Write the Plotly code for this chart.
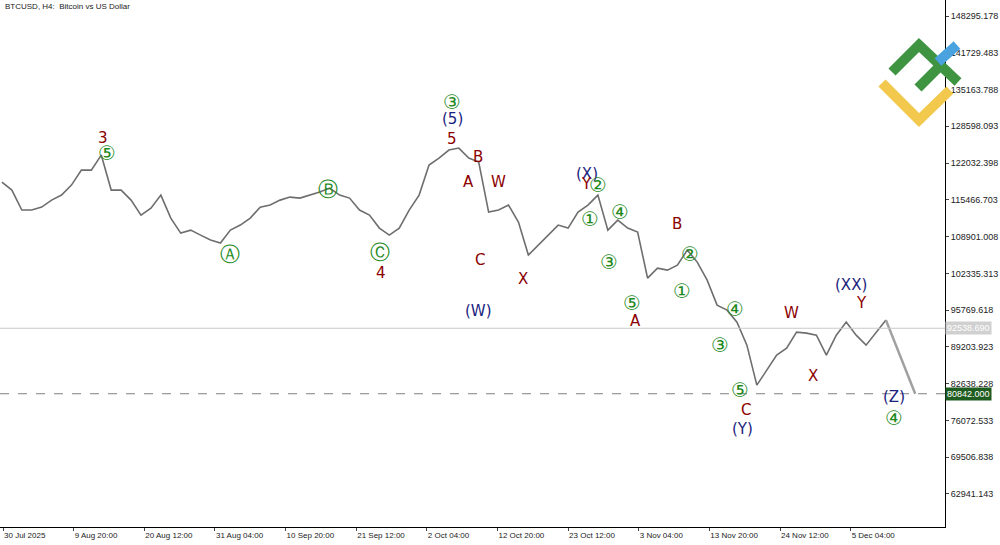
import pandas as pd
import plotly.graph_objects as go

# BTCUSD H4 close path, sampled every 36 hours from 30 Jul 2025
start = pd.Timestamp("2025-07-30 00:00")
prices = [
    118640, 117210, 113640, 113640, 114170, 115420, 116320, 118100, 120780, 120780,
    123460, 117210, 117210, 115420, 112740, 113990, 116320, 112210, 109530, 110060,
    109170, 108280, 107740, 110060, 110960, 112210, 114170, 114530, 115420, 115960,
    115780, 116320, 116850, 117570, 116320, 115780, 113640, 112740, 110420, 109170,
    110420, 113640, 116320, 121680, 122930, 124360, 124710, 122930, 122210, 113280,
    113640, 114530, 111490, 105600, 107380, 109170, 110960, 110420, 113280, 114530,
    116320, 110060, 111850, 110420, 109710, 101490, 103270, 102920, 103810, 106490,
    104350, 101130, 96660, 95770, 93630, 89520, 82370, 85050, 87730, 88980,
    91840, 91660, 91300, 87730, 91300, 93630, 91300, 89520, 91840, 93990,
]
dates = pd.date_range(start, periods=len(prices), freq="36h")

forecast_dates = [dates[-1], pd.Timestamp("2025-12-14 22:00")]
forecast_prices = [prices[-1], 80842]

price_ticks = [148295.178, 141729.483, 135163.788, 128598.093, 122032.398, 115466.703,
               108901.008, 102335.313, 95769.618, 89203.923, 82638.228, 76072.533,
               69506.838, 62941.143]
time_ticks = pd.date_range("2025-07-30 04:00", periods=13, freq="256h")
time_labels = ["30 Jul 2025"] + [t.strftime("%-d %b %H:%M") for t in time_ticks[1:]]

current_price = 92538.690
target_price = 80842.000

# wave labels: (pixel x, pixel y, text, kind)
labels = [
    (96, 127, "3", "r"), (96, 139, "⑤", "g"), (218, 254, "Ⓐ", "g"), (328, 175, "Ⓑ", "g"),
    (380, 252, "Ⓒ", "g"), (381, 273, "4", "r"), (452, 88, "③", "g"), (452, 108, "(5)", "b"),
    (452, 128, "5", "r"), (478, 146, "B", "r"), (468, 182, "A", "r"), (480, 260, "C", "r"),
    (478, 311, "(W)", "b"), (498, 182, "W", "r"), (523, 279, "X", "r"), (587, 163, "(X)", "b"),
    (586, 184, "Y", "r"), (598, 185, "②", "g"), (590, 219, "①", "g"), (631, 212, "④", "g"),
    (609, 262, "③", "g"), (643, 303, "⑤", "g"), (643, 321, "A", "r"), (684, 224, "B", "r"),
    (701, 254, "②", "g"), (693, 291, "①", "g"), (746, 309, "④", "g"), (731, 359, "③", "g"),
    (751, 404, "⑤", "g"), (753, 421, "C", "r"), (755, 440, "(Y)", "b"), (801, 313, "W", "r"),
    (820, 387, "X", "r"), (869, 285, "(XX)", "b"), (869, 303, "Y", "r"), (907, 408, "(Z)", "b"),
    (905, 432, "④", "g"),
]
colors = {"r": "#8b0000", "g": "#1e8a1e", "b": "#1a237e"}

W, H = 945, 527  # plot area in pixels


def px(x, y):
    return x / W, 1 - y / H


fig = go.Figure()
fig.add_trace(go.Scatter(x=dates, y=prices, mode="lines",
                         line=dict(color="#6e6e6e", width=1.6), showlegend=False))
fig.add_trace(go.Scatter(x=forecast_dates, y=forecast_prices, mode="lines",
                         line=dict(color="#a0a0a0", width=2.5), showlegend=False))

fig.add_hline(y=current_price, line=dict(color="#c8c8c8", width=1))
fig.add_hline(y=target_price, line=dict(color="#808080", width=1, dash="dash"))

for x, y, t, k in labels:
    ax, ay = px(x, y)
    fig.add_annotation(x=ax, y=ay, xref="paper", yref="paper", text=t, showarrow=False,
                       font=dict(size=20 if k == "g" else 15, color=colors[k],
                                 family="DejaVu Sans"))

for price, bg, fg in [(current_price, "#d0d0d0", "white"), (target_price, "#1f5c1f", "white")]:
    fig.add_annotation(x=1, y=price, xref="paper", yref="y", text=f"{price:.3f}",
                       showarrow=False, xanchor="left", bgcolor=bg, borderpad=1,
                       font=dict(size=9, color=fg, family="Liberation Sans"))

# logo
logo = [
    ([(892, 72), (919, 45), (958, 82)], "#3f9442"),
    ([(918, 88), (938, 68)], "#3f9442"),
    ([(938, 62), (957, 45)], "#4aa3df"),
    ([(882, 83), (919, 120), (950, 90)], "#f2c94c"),
]
for pts, c in logo:
    path = "M " + " L ".join(f"{px(a, b)[0]} {px(a, b)[1]}" for a, b in pts)
    fig.add_shape(type="path", path=path, xref="paper", yref="paper",
                  line=dict(color=c, width=10))

fig.add_annotation(x=0.003, y=1, xref="paper", yref="paper", text="BTCUSD, H4:  Bitcoin vs US Dollar",
                   showarrow=False, xanchor="left", yanchor="top",
                   font=dict(size=8, color="#222", family="Liberation Sans"))

fig.update_layout(
    width=1000, height=545, paper_bgcolor="white", plot_bgcolor="white",
    margin=dict(l=0, r=55, t=0, b=18),
    xaxis=dict(range=[start - pd.Timedelta(hours=7), pd.Timestamp("2025-12-19 10:00")],
               tickvals=time_ticks, ticktext=time_labels, showgrid=False, automargin=False,
               ticks="outside", ticklen=3, ticklabelposition="outside right",
               tickfont=dict(size=8, color="#222", family="Liberation Sans"),
               showline=True, linecolor="black", mirror=False),
    yaxis=dict(side="right", range=[57045, 151154], tickvals=price_ticks, automargin=False,
               ticktext=[f"{p:.3f}" for p in price_ticks], showgrid=False,
               ticks="outside", ticklen=3, showline=True, linecolor="black",
               tickfont=dict(size=9, color="#222", family="Liberation Sans")),
)

fig.write_html("out.html", config={"displayModeBar": False},
               post_script="document.body.style.margin='0';")
